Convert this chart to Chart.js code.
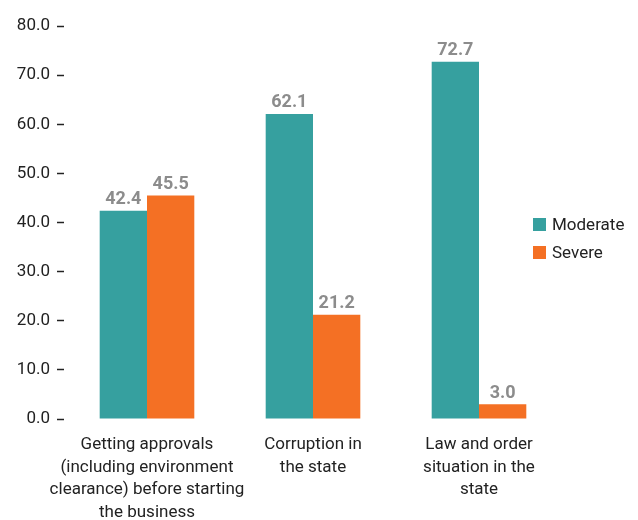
<!DOCTYPE html>
<html>
<head>
<meta charset="utf-8">
<script src="https://cdn.jsdelivr.net/npm/chart.js@4.4.0/dist/chart.umd.min.js"></script>
<style>
  html, body { margin: 0; padding: 0; background: #fff; }
  #wrap { position: relative; width: 638px; height: 520px; }
  #legend { position: absolute; left: 533px; top: 210px; font-family: "Liberation Sans Narrow", "Roboto", sans-serif; font-size: 17px; color: #222; }
  #legend div { height: 28px; display: flex; align-items: center; }
  #legend span.box { display: inline-block; width: 13px; height: 13px; margin-right: 6px; }
</style>
</head>
<body>
<div id="wrap">
  <canvas id="barChart" width="638" height="520"></canvas>
  <div id="legend"></div>
</div>
<script>
// chart data
var categories = [
    ["Getting approvals", "(including environment", "clearance) before starting", "the business"],
    ["Corruption in", "the state"],
    ["Law and order", "situation in the", "state"]
];
var seriesNames = ["Moderate", "Severe"];
var moderate = [42.4, 62.1, 72.7];
var severe = [45.5, 21.2, 3.0];
var colors = ["#36a09f", "#f47024"];

var fontFamily = '"Liberation Sans Narrow", "Roboto", sans-serif';

// value labels above each bar
var valueLabels = {
    id: 'valueLabels',
    afterDatasetsDraw: function(chart) {
        var ctx = chart.ctx;
        ctx.save();
        ctx.font = 'bold 18px ' + fontFamily;
        ctx.fillStyle = '#8c8c8c';
        ctx.textAlign = 'center';
        ctx.textBaseline = 'bottom';
        chart.data.datasets.forEach(function(ds, i) {
            chart.getDatasetMeta(i).data.forEach(function(bar, j) {
                ctx.fillText(ds.data[j].toFixed(1), bar.x, bar.y - 2);
            });
        });
        ctx.restore();
    }
};

function createChart() {
    var ctx = document.getElementById('barChart').getContext('2d');
    new Chart(ctx, {
        type: 'bar',
        data: {
            labels: categories,
            datasets: [{
                label: seriesNames[0],
                data: moderate,
                backgroundColor: colors[0]
            }, {
                label: seriesNames[1],
                data: severe,
                backgroundColor: colors[1]
            }]
        },
        options: {
            responsive: false,
            animation: false,
            layout: { padding: { top: 26, right: 76, left: 0, bottom: 0 } },
            datasets: { bar: { categoryPercentage: 0.57, barPercentage: 1.0 } },
            plugins: {
                legend: { display: false },
                tooltip: { enabled: false }
            },
            scales: {
                x: {
                    grid: { display: false },
                    border: { display: false },
                    afterFit: function(scale) { scale.height = 101; },
                    ticks: {
                        color: '#222',
                        font: { family: fontFamily, size: 17, lineHeight: 1.32 },
                        maxRotation: 0,
                        autoSkip: false,
                        padding: 7
                    }
                },
                y: {
                    min: 0,
                    max: 80,
                    grid: {
                        display: true,
                        drawOnChartArea: false,
                        drawTicks: true,
                        tickLength: 7,
                        tickWidth: 1.5,
                        color: '#222'
                    },
                    border: { display: false },
                    afterFit: function(scale) { scale.width = 64; },
                    ticks: {
                        stepSize: 10,
                        color: '#222',
                        padding: 7,
                        font: { family: fontFamily, size: 17 },
                        callback: function(v) { return v.toFixed(1); }
                    }
                }
            }
        },
        plugins: [valueLabels]
    });

    // legend
    var lg = document.getElementById('legend');
    seriesNames.forEach(function(name, i) {
        var row = document.createElement('div');
        row.innerHTML = '<span class="box" style="background:' + colors[i] + '"></span>' + name;
        lg.appendChild(row);
    });
}

document.addEventListener("DOMContentLoaded", createChart);
</script>
</body>
</html>
